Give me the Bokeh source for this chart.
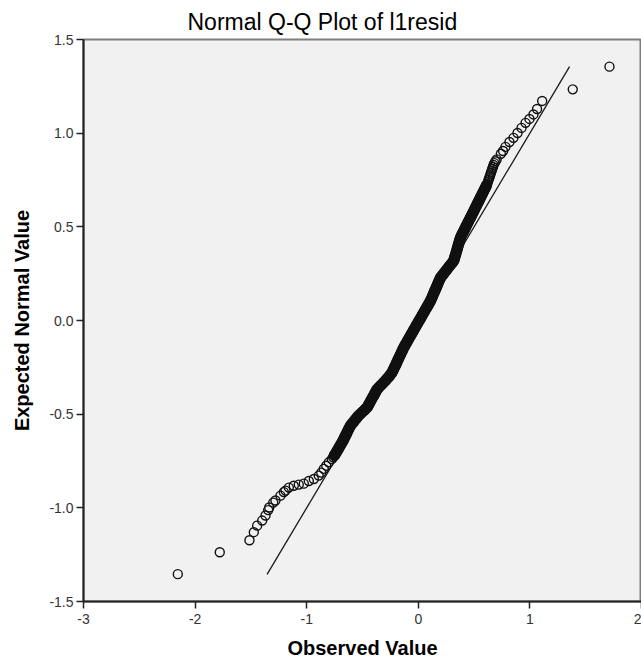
from bokeh.plotting import figure
from bokeh.models import Range1d
from bokeh.models import FixedTicker, PrintfTickFormatter, ColumnDataSource
from bokeh.embed import file_html
from bokeh.resources import INLINE

observed_value = [
    -2.155, -1.779, -1.513, -1.474, -1.444, -1.399, -1.369, -1.345, -1.336, -1.300,
    -1.280, -1.235, -1.205, -1.190, -1.160, -1.116, -1.071, -1.026, -0.981, -0.936,
    -0.892, -0.870, -0.847, -0.825, -0.802,
    -0.775, -0.763, -0.752, -0.741, -0.731, -0.721, -0.711, -0.702, -0.692, -0.682,
    -0.673, -0.665, -0.657, -0.648, -0.640, -0.632, -0.624, -0.615, -0.607, -0.593,
    -0.579, -0.566, -0.552, -0.539, -0.522, -0.504, -0.486, -0.469, -0.454, -0.445,
    -0.436, -0.427, -0.418, -0.408, -0.399, -0.390, -0.381, -0.372, -0.358, -0.342,
    -0.325, -0.309, -0.293, -0.279, -0.263, -0.252, -0.238, -0.229, -0.221, -0.213,
    -0.205, -0.197, -0.190, -0.182, -0.174, -0.166, -0.158, -0.150, -0.143, -0.135,
    -0.126, -0.117, -0.107, -0.097, -0.088, -0.078, -0.069, -0.059, -0.049, -0.040,
    -0.030, -0.021, -0.011, -0.001, 0.008, 0.018, 0.028, 0.037, 0.047, 0.057,
    0.066, 0.076, 0.086, 0.095, 0.105, 0.113, 0.121, 0.128, 0.135, 0.142,
    0.149, 0.157, 0.164, 0.171, 0.178, 0.185, 0.193, 0.200, 0.214, 0.227,
    0.240, 0.253, 0.266, 0.279, 0.293, 0.306, 0.318, 0.323, 0.328, 0.333,
    0.338, 0.343, 0.348, 0.352, 0.357, 0.362, 0.367, 0.372, 0.377, 0.384,
    0.392, 0.401, 0.409, 0.418, 0.426, 0.434, 0.443, 0.451, 0.460, 0.468,
    0.477, 0.485, 0.494, 0.502, 0.510, 0.519, 0.527, 0.535, 0.544, 0.552,
    0.560, 0.569, 0.577, 0.585, 0.594, 0.602, 0.610, 0.618, 0.624, 0.629,
    0.635, 0.641, 0.646, 0.652, 0.657, 0.663, 0.669, 0.674, 0.682, 0.692,
    0.702,
    0.740, 0.760, 0.781, 0.817, 0.853, 0.889, 0.925, 0.961, 0.996, 1.032,
    1.064, 1.110, 1.384, 1.713,
]
expected_normal = [
    -1.354, -1.237, -1.173, -1.130, -1.095, -1.068, -1.041, -1.012, -0.998, -0.972,
    -0.961, -0.935, -0.916, -0.908, -0.892, -0.882, -0.876, -0.871, -0.857, -0.846,
    -0.828, -0.812, -0.792, -0.775, -0.757,
    -0.74, -0.73, -0.72, -0.71, -0.70, -0.69, -0.68, -0.67, -0.66, -0.65,
    -0.64, -0.63, -0.62, -0.61, -0.60, -0.59, -0.58, -0.57, -0.56, -0.55,
    -0.54, -0.53, -0.52, -0.51, -0.50, -0.49, -0.48, -0.47, -0.46, -0.45,
    -0.44, -0.43, -0.42, -0.41, -0.40, -0.39, -0.38, -0.37, -0.36, -0.35,
    -0.34, -0.33, -0.32, -0.31, -0.30, -0.29, -0.28, -0.27, -0.26, -0.25,
    -0.24, -0.23, -0.22, -0.21, -0.20, -0.19, -0.18, -0.17, -0.16, -0.15,
    -0.14, -0.13, -0.12, -0.11, -0.10, -0.09, -0.08, -0.07, -0.06, -0.05,
    -0.04, -0.03, -0.02, -0.01, 0.00, 0.01, 0.02, 0.03, 0.04, 0.05,
    0.06, 0.07, 0.08, 0.09, 0.10, 0.11, 0.12, 0.13, 0.14, 0.15,
    0.16, 0.17, 0.18, 0.19, 0.20, 0.21, 0.22, 0.23, 0.24, 0.25,
    0.26, 0.27, 0.28, 0.29, 0.30, 0.31, 0.32, 0.33, 0.34, 0.35,
    0.36, 0.37, 0.38, 0.39, 0.40, 0.41, 0.42, 0.43, 0.44, 0.45,
    0.46, 0.47, 0.48, 0.49, 0.50, 0.51, 0.52, 0.53, 0.54, 0.55,
    0.56, 0.57, 0.58, 0.59, 0.60, 0.61, 0.62, 0.63, 0.64, 0.65,
    0.66, 0.67, 0.68, 0.69, 0.70, 0.71, 0.72, 0.73, 0.74, 0.75,
    0.76, 0.77, 0.78, 0.79, 0.80, 0.81, 0.82, 0.83, 0.84, 0.85,
    0.86,
    0.890, 0.905, 0.927, 0.953, 0.975, 1.001, 1.028, 1.055, 1.076, 1.100,
    1.129, 1.172, 1.234, 1.355,
]

# Reference (y = x) line endpoints
ref_line_x = [-1.355, 1.355]
ref_line_y = [-1.355, 1.355]

x_ticks = [-3, -2, -1, 0, 1, 2]
y_ticks = [-1.5, -1.0, -0.5, 0.0, 0.5, 1.0, 1.5]

FONT = "Liberation Sans"

p = figure(
    width=641, height=662,
    x_range=Range1d(-3, 2), y_range=Range1d(-1.5, 1.5),
    output_backend="svg", toolbar_location=None,
    min_border_left=83, min_border_right=0, min_border_top=39, min_border_bottom=61,
)
p.title.text = "Normal Q-Q Plot of l1resid"
p.title.text_font = FONT
p.title.text_font_size = "23px"
p.title.text_font_style = "normal"
p.title.text_color = "#000000"
p.title.align = "left"
p.title.offset = 104

p.background_fill_color = "#f1f1f1"
p.border_fill_color = "#ffffff"
p.outline_line_color = "#7f7f7f"
p.outline_line_width = 2
p.xgrid.visible = False
p.ygrid.visible = False

for ax in (p.xaxis[0], p.yaxis[0]):
    ax.axis_line_color = "#222222"
    ax.axis_line_width = 2
    ax.major_tick_line_color = "#222222"
    ax.major_tick_line_width = 1.5
    ax.major_tick_out = 7
    ax.major_tick_in = 0
    ax.minor_tick_line_color = None
    ax.major_label_text_font = FONT
    ax.major_label_text_font_size = "14px"
    ax.major_label_text_color = "#333333"
    ax.axis_label_text_font = FONT
    ax.axis_label_text_font_size = "20px"
    ax.axis_label_text_font_style = "bold"
    ax.axis_label_text_color = "#000000"

p.xaxis.ticker = FixedTicker(ticks=x_ticks)
p.yaxis.ticker = FixedTicker(ticks=y_ticks)
p.xaxis.formatter = PrintfTickFormatter(format="%d")
p.yaxis.formatter = PrintfTickFormatter(format="%.1f")
p.xaxis.major_label_standoff = 5
p.yaxis.major_label_standoff = 3
p.yaxis.axis_label = "Expected Normal Value"
p.yaxis.axis_label_standoff = 13
p.xaxis.axis_label = "Observed Value"
p.xaxis.axis_label_standoff = 10

src = ColumnDataSource(data=dict(x=observed_value, y=expected_normal))
# dense middle part of the sample, drawn solid as the overlapping markers appear
dense = ColumnDataSource(data=dict(x=observed_value[27:172], y=expected_normal[27:172]))

p.line(ref_line_x, ref_line_y, line_color="#1a1a1a", line_width=1.3)
p.scatter("x", "y", source=dense, marker="circle", size=10, fill_color="#111111",
          line_color="#111111", line_width=1.4)
p.scatter("x", "y", source=src, marker="circle", size=9, fill_color=None,
          line_color="#111111", line_width=1.4)

open("out.html", "w").write(file_html(p, INLINE))
